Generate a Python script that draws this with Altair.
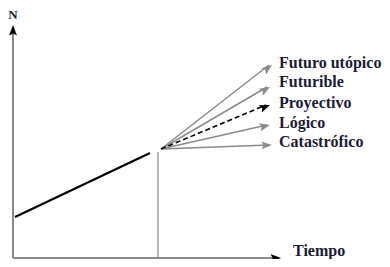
import math
import altair as alt
import pandas as pd

# Coordinates in chart units (time → right, N → up); origin at axes corner
hist_x = [2, 137]
hist_y = [41, 105]

present_x = 145
present_top = 106

fan_origin = (148, 109)
scenarios = ["Futuro utópico", "Futurible", "Proyectivo", "Lógico", "Catastrófico"]
end_x = [259, 257, 257, 257, 259]
end_y = [193, 171, 153, 133, 113]
label_y = [195, 176, 155, 135, 116]
label_x = 266

yaxis_top = 233
xaxis_end = 268

GRAY = "#8a8a8a"
TXT = "#1b1b35"
FONT = "Liberation Serif"

xs = alt.Scale(domain=[-5, 369])
ys = alt.Scale(domain=[-1, 250])

def ang(dx, dy):
    return math.degrees(math.atan2(dx, dy)) % 360

# gray segments (axes, present line, fan except proyectivo)
segs = [
    dict(x=0, y=0, x2=0, y2=yaxis_top - 6, w=2),
    dict(x=0, y=0, x2=xaxis_end - 6, y2=0, w=2),
    dict(x=present_x, y=0, x2=present_x, y2=present_top, w=1.2),
]
for i, s in enumerate(scenarios):
    if s != "Proyectivo":
        segs.append(dict(x=fan_origin[0], y=fan_origin[1], x2=end_x[i] - 3, y2=end_y[i], w=1.5))
segs_df = pd.DataFrame(segs)

gray_rules = alt.Chart(segs_df).mark_rule(color=GRAY).encode(
    x=alt.X("x:Q", scale=xs, axis=None),
    y=alt.Y("y:Q", scale=ys, axis=None),
    x2="x2:Q", y2="y2:Q",
    strokeWidth=alt.StrokeWidth("w:Q", scale=None),
)

hist_df = pd.DataFrame({"x": [hist_x[0]], "y": [hist_y[0]], "x2": [hist_x[1]], "y2": [hist_y[1]]})
hist = alt.Chart(hist_df).mark_rule(color="black", strokeWidth=2.2).encode(
    x=alt.X("x:Q", scale=xs, axis=None), y=alt.Y("y:Q", scale=ys, axis=None), x2="x2:Q", y2="y2:Q"
)

pi = scenarios.index("Proyectivo")
proj_df = pd.DataFrame({"x": [fan_origin[0]], "y": [fan_origin[1]], "x2": [end_x[pi] - 4], "y2": [end_y[pi]]})
proj = alt.Chart(proj_df).mark_rule(color="black", strokeWidth=1.6, strokeDash=[5, 3]).encode(
    x=alt.X("x:Q", scale=xs, axis=None), y=alt.Y("y:Q", scale=ys, axis=None), x2="x2:Q", y2="y2:Q"
)

heads = [
    dict(x=0, y=yaxis_top, a=0.0, c="black"),
    dict(x=xaxis_end, y=0, a=90.0, c="black"),
]
for i, s in enumerate(scenarios):
    heads.append(dict(x=end_x[i], y=end_y[i],
                      a=ang(end_x[i] - fan_origin[0], end_y[i] - fan_origin[1]),
                      c="black" if s == "Proyectivo" else GRAY))
heads_df = pd.DataFrame(heads)
arrow_shape = "M0,0 L-0.38,1 L0,0.8 L0.38,1 Z"
arrows = alt.Chart(heads_df).mark_point(shape=arrow_shape, filled=True, size=440, opacity=1, strokeWidth=0).encode(
    x=alt.X("x:Q", scale=xs, axis=None), y=alt.Y("y:Q", scale=ys, axis=None),
    angle=alt.Angle("a:Q", scale=None),
    color=alt.Color("c:N", scale=None),
)

lab_df = pd.DataFrame({"x": [label_x] * len(scenarios), "y": label_y, "t": scenarios})
labels = alt.Chart(lab_df).mark_text(align="left", baseline="middle", font=FONT, fontSize=16,
                                     fontWeight="bold", color=TXT).encode(
    x=alt.X("x:Q", scale=xs, axis=None), y=alt.Y("y:Q", scale=ys, axis=None), text="t:N"
)

ax_df = pd.DataFrame({"x": [280, 0], "y": [2.5, 243.5], "t": ["Tiempo", "N"]})
tiempo = alt.Chart(ax_df.iloc[[0]]).mark_text(align="left", baseline="alphabetic", font=FONT, fontSize=16,
                                              fontWeight="bold", color=TXT).encode(
    x=alt.X("x:Q", scale=xs, axis=None), y=alt.Y("y:Q", scale=ys, axis=None), text="t:N"
)
nlab = alt.Chart(ax_df.iloc[[1]]).mark_text(align="center", baseline="middle", font=FONT, fontSize=13,
                                            fontWeight="bold", color=TXT).encode(
    x=alt.X("x:Q", scale=xs, axis=None), y=alt.Y("y:Q", scale=ys, axis=None), text="t:N"
)

chart = alt.layer(gray_rules, hist, proj, arrows, labels, tiempo, nlab).properties(
    width=374, height=251, padding=0,
    autosize=alt.AutoSizeParams(type="none"),
).configure_view(stroke=None)

chart.save("out.html", embed_options={"renderer": "svg", "actions": False})
